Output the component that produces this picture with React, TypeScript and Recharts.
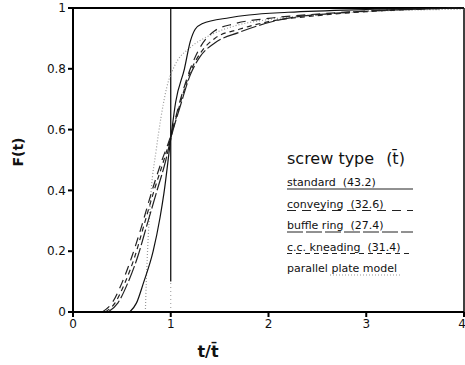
import React from "react";
import {
  LineChart,
  Line,
  XAxis,
  YAxis,
  ReferenceLine,
} from "recharts";

// readings: t/t-bar vs F(t)
const standard = [
  { t: 0.58, f: 0 }, { t: 0.65, f: 0.03 }, { t: 0.72, f: 0.095 }, { t: 0.82, f: 0.2 },
  { t: 0.89, f: 0.31 }, { t: 0.93, f: 0.39 }, { t: 1.0, f: 0.57 }, { t: 1.05, f: 0.69 },
  { t: 1.14, f: 0.8 }, { t: 1.2, f: 0.89 }, { t: 1.25, f: 0.93 }, { t: 1.32, f: 0.948 },
  { t: 1.6, f: 0.968 }, { t: 1.8, f: 0.977 }, { t: 2.2, f: 0.986 }, { t: 3.0, f: 0.995 },
  { t: 4.0, f: 1 },
];
const conveying = [
  { t: 0.3, f: 0 }, { t: 0.4, f: 0.03 }, { t: 0.5, f: 0.095 }, { t: 0.6, f: 0.18 },
  { t: 0.7, f: 0.28 }, { t: 0.8, f: 0.39 }, { t: 0.9, f: 0.49 }, { t: 1.0, f: 0.58 },
  { t: 1.1, f: 0.7 }, { t: 1.2, f: 0.8 }, { t: 1.3, f: 0.87 }, { t: 1.45, f: 0.925 },
  { t: 1.65, f: 0.948 }, { t: 2.0, f: 0.966 }, { t: 2.5, f: 0.98 }, { t: 3.0, f: 0.99 },
  { t: 4.0, f: 1 },
];
const buffleRing = [
  { t: 0.36, f: 0 }, { t: 0.46, f: 0.03 }, { t: 0.56, f: 0.095 }, { t: 0.66, f: 0.18 },
  { t: 0.76, f: 0.29 }, { t: 0.86, f: 0.4 }, { t: 0.95, f: 0.5 }, { t: 1.0, f: 0.57 },
  { t: 1.1, f: 0.68 }, { t: 1.2, f: 0.78 }, { t: 1.3, f: 0.84 }, { t: 1.45, f: 0.885 },
  { t: 1.7, f: 0.92 }, { t: 2.1, f: 0.96 }, { t: 2.7, f: 0.983 }, { t: 3.3, f: 0.994 },
  { t: 4.0, f: 1 },
];
const kneading = [
  { t: 0.33, f: 0 }, { t: 0.43, f: 0.03 }, { t: 0.53, f: 0.095 }, { t: 0.63, f: 0.18 },
  { t: 0.73, f: 0.29 }, { t: 0.83, f: 0.4 }, { t: 0.93, f: 0.5 }, { t: 1.0, f: 0.575 },
  { t: 1.1, f: 0.69 }, { t: 1.2, f: 0.79 }, { t: 1.3, f: 0.85 }, { t: 1.45, f: 0.9 },
  { t: 1.7, f: 0.93 }, { t: 2.0, f: 0.955 }, { t: 2.5, f: 0.975 }, { t: 3.0, f: 0.988 },
  { t: 4.0, f: 1 },
];
const parallelPlate = [
  { t: 0.74, f: 0 }, { t: 0.75, f: 0.1 }, { t: 0.77, f: 0.25 }, { t: 0.8, f: 0.4 },
  { t: 0.85, f: 0.53 }, { t: 0.9, f: 0.64 }, { t: 0.96, f: 0.74 }, { t: 1.04, f: 0.81 },
  { t: 1.2, f: 0.87 }, { t: 1.4, f: 0.91 }, { t: 1.7, f: 0.945 }, { t: 2.0, f: 0.962 },
  { t: 2.5, f: 0.978 }, { t: 3.0, f: 0.988 }, { t: 4.0, f: 0.996 },
];

const xTicks = [0, 1, 2, 3, 4];
const yTicks = [0, 0.2, 0.4, 0.6, 0.8, 1];

const legendItems = [
  { label: "standard  (43.2)", dash: undefined, color: "#222" },
  { label: "conveying  (32.6)", dash: "9 6", color: "#222" },
  { label: "buffle ring  (27.4)", dash: "16 3", color: "#222" },
  { label: "c.c. kneading  (31.4)", dash: "5 4", color: "#222" },
  { label: "parallel plate model", dash: "1 2", color: "#999" },
];

const FONT = "'DejaVu Sans', sans-serif";

const yFmt = (v: number) => (v === 0 || v === 1 ? String(v) : v.toFixed(1));

const App = () => {
  return (
    <div style={{ position: "absolute", left: 0, top: 0, width: 465, height: 365, background: "#fff" }}>
      <LineChart
        width={465}
        height={365}
        margin={{ top: 8, right: 1, bottom: 0, left: 0 }}
      >
        <XAxis
          type="number"
          dataKey="t"
          domain={[0, 4]}
          ticks={xTicks}
          allowDataOverflow
          height={53}
          stroke="#000"
          strokeWidth={2}
          tickSize={5}
          tick={{ fill: "#111", fontSize: 12, fontFamily: FONT }}
        />
        <YAxis
          type="number"
          domain={[0, 1]}
          ticks={yTicks}
          width={73}
          stroke="#000"
          strokeWidth={2}
          tickSize={5}
          tickFormatter={yFmt}
          tick={{ fill: "#111", fontSize: 12, fontFamily: FONT }}
        />
        <ReferenceLine y={1} stroke="#000" strokeWidth={2} />
        <ReferenceLine x={4} stroke="#000" strokeWidth={1.5} />
        <ReferenceLine
          segment={[{ x: 1, y: 0.1 }, { x: 1, y: 1 }]}
          stroke="#000"
          strokeWidth={1.2}
        />
        <ReferenceLine
          segment={[{ x: 1, y: 0 }, { x: 1, y: 0.1 }]}
          stroke="#999"
          strokeDasharray="1 3"
        />
        <Line data={parallelPlate} dataKey="f" type="monotone" stroke="#999" strokeWidth={1.2} strokeDasharray="1 2" dot={false} isAnimationActive={false} />
        <Line data={buffleRing} dataKey="f" type="monotone" stroke="#222" strokeWidth={1.2} strokeDasharray="16 3" dot={false} isAnimationActive={false} />
        <Line data={kneading} dataKey="f" type="monotone" stroke="#222" strokeWidth={1.2} strokeDasharray="5 4" dot={false} isAnimationActive={false} />
        <Line data={conveying} dataKey="f" type="monotone" stroke="#222" strokeWidth={1.2} strokeDasharray="9 6" dot={false} isAnimationActive={false} />
        <Line data={standard} dataKey="f" type="monotone" stroke="#111" strokeWidth={1.2} dot={false} isAnimationActive={false} />
      </LineChart>

      {/* axis titles and the in-plot legend */}
      <svg width={465} height={365} style={{ position: "absolute", left: 0, top: 0, pointerEvents: "none" }}>
        <text x={208} y={357} textAnchor="middle" fontFamily={FONT} fontWeight="bold" fontSize={16} fill="#111">
          t/t̄
        </text>
        <text
          transform="translate(23,152) rotate(-90)"
          textAnchor="middle"
          fontFamily={FONT}
          fontWeight="bold"
          fontSize={14}
          fill="#111"
        >
          F(t)
        </text>
        <text x={287} y={164} fontFamily={FONT} fontSize={16} fill="#111">
          screw type
          <tspan dx={12}>(t̄)</tspan>
        </text>
        {legendItems.map((item, i) => {
          const y = 186 + i * 21.5;
          return (
            <g key={item.label}>
              <text x={287} y={y} fontFamily={FONT} fontSize={11} fill="#111" style={{ whiteSpace: "pre" }}>
                {item.label}
              </text>
              {i < 4 && (
                <line x1={287} x2={413} y1={y + 3} y2={y + 3} stroke={item.color} strokeWidth={1} strokeDasharray={item.dash} />
              )}
              {i === 4 && (
                <line x1={330} x2={400} y1={y + 3} y2={y + 3} stroke={item.color} strokeWidth={1} strokeDasharray={item.dash} />
              )}
            </g>
          );
        })}
      </svg>
    </div>
  );
};

export default App;
